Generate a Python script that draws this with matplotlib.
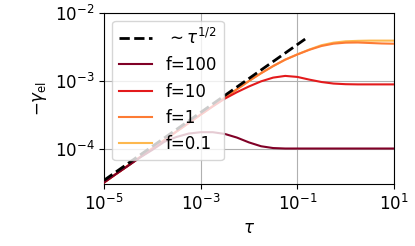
import matplotlib
matplotlib.use("Agg")
import matplotlib.pyplot as plt
from matplotlib.ticker import FixedLocator, NullLocator

plt.rcParams['font.size'] = 12

# time grid (quarter decades)
tau = [1e-5, 1.78e-5, 3.16e-5, 5.62e-5, 1e-4, 1.78e-4, 3.16e-4, 5.62e-4,
       1e-3, 1.78e-3, 3.16e-3, 5.62e-3, 1e-2, 1.78e-2, 3.16e-2, 5.62e-2,
       0.1, 0.178, 0.316, 0.562, 1.0, 1.78, 3.16, 5.62, 10.0]

gamma_f100 = [3.16e-5, 4.22e-5, 5.56e-5, 7.41e-5, 9.55e-5, 1.26e-4, 1.48e-4, 1.66e-4,
              1.74e-4, 1.74e-4, 1.64e-4, 1.45e-4, 1.23e-4, 1.08e-4, 1.016e-4, 1.0e-4,
              1.0e-4, 1.0e-4, 1.0e-4, 1.0e-4, 1.0e-4, 1.0e-4, 1.0e-4, 1.0e-4, 1.0e-4]

gamma_f10 = [3.16e-5, 4.22e-5, 5.62e-5, 7.50e-5, 1.0e-4, 1.33e-4, 1.78e-4, 2.37e-4,
             3.16e-4, 4.17e-4, 5.43e-4, 6.76e-4, 8.22e-4, 9.77e-4, 1.109e-3, 1.175e-3,
             1.135e-3, 1.035e-3, 9.55e-4, 9.06e-4, 8.87e-4, 8.81e-4, 8.81e-4, 8.81e-4, 8.81e-4]

gamma_f1 = [3.16e-5, 4.22e-5, 5.62e-5, 7.50e-5, 1.0e-4, 1.33e-4, 1.78e-4, 2.37e-4,
            3.16e-4, 4.22e-4, 5.62e-4, 7.46e-4, 9.89e-4, 1.288e-3, 1.64e-3, 2.04e-3,
            2.43e-3, 2.85e-3, 3.24e-3, 3.51e-3, 3.63e-3, 3.65e-3, 3.59e-3, 3.53e-3, 3.50e-3]

gamma_f01 = [3.16e-5, 4.22e-5, 5.62e-5, 7.50e-5, 1.0e-4, 1.33e-4, 1.78e-4, 2.37e-4,
             3.16e-4, 4.22e-4, 5.62e-4, 7.46e-4, 9.89e-4, 1.288e-3, 1.64e-3, 2.04e-3,
             2.44e-3, 2.88e-3, 3.33e-3, 3.63e-3, 3.80e-3, 3.86e-3, 3.89e-3, 3.89e-3, 3.89e-3]

# guide line ~ tau^(1/2)
tau_guide = [1e-5, 0.145]
gamma_guide = [3.4e-5, 4.1e-3]

labels = ['f=100', 'f=10', 'f=1', 'f=0.1']
colors = ['#800026', '#e31a1c', '#fd7b34', '#fdb84e']
series = [gamma_f100, gamma_f10, gamma_f1, gamma_f01]

xticks = [1e-5, 1e-3, 1e-1, 1e1]
yticks = [1e-4, 1e-3, 1e-2]

fig = plt.figure(figsize=(4.15, 2.46), dpi=100)
ax = fig.add_axes([0.2506, 0.252, 0.6988, 0.696])

ax.plot(tau_guide, gamma_guide, '--', color='k', lw=2, zorder=4.5,
        label=r'$\sim\tau^{1/2}$')
for i, (g, lab, c) in enumerate(zip(series, labels, colors)):
    ax.plot(tau, g, color=c, lw=1.5, label=lab, zorder=4 - 0.5 * i)

ax.set_xscale('log')
ax.set_yscale('log')
ax.set_xlim(1e-5, 10)
ax.set_ylim(3e-5, 1e-2)
ax.xaxis.set_major_locator(FixedLocator(xticks))
ax.yaxis.set_major_locator(FixedLocator(yticks))
ax.xaxis.set_minor_locator(NullLocator())
ax.yaxis.set_minor_locator(NullLocator())
ax.grid(True, color='#b0b0b0', lw=0.8)

ax.set_xlabel(r'$\tau$')
ax.set_ylabel(r'$-\gamma_{\rm el}$')
leg = ax.legend(loc='upper left')
leg.set_zorder(10)

fig.savefig('out.png', dpi=100)
